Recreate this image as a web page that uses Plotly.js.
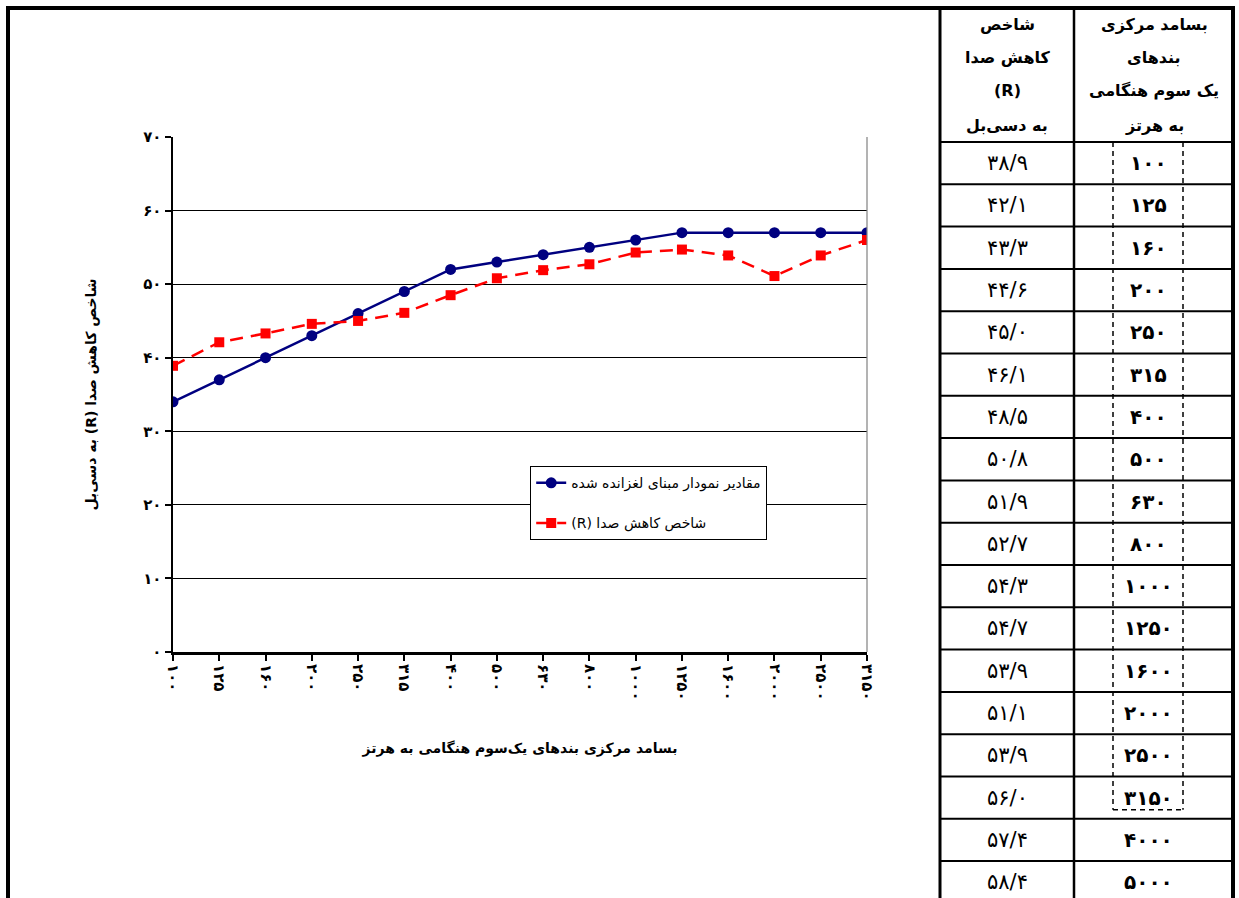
<!DOCTYPE html>
<html>
<head>
<meta charset="utf-8">
<script src="https://cdn.plot.ly/plotly-3.0.1.min.js"></script>
<style>
  html, body { margin: 0; padding: 0; background: #ffffff; }
  #chart { width: 1239px; height: 898px; }
</style>
</head>
<body>
<div id="chart"></div>
<script>
// ---- data ----
const freqLabels = ['100','125','160','200','250','315','400','500','630','800','1000','1250','1600','2000','2500','3150','4000','5000'];
const rValues = [38.9, 42.1, 43.3, 44.6, 45.0, 46.1, 48.5, 50.8, 51.9, 52.7, 54.3, 54.7, 53.9, 51.1, 53.9, 56.0, 57.4, 58.4];
const refCurve = [34, 37, 40, 43, 46, 49, 52, 53, 54, 55, 56, 57, 57, 57, 57, 57];
const yTickVals = [0, 10, 20, 30, 40, 50, 60, 70];

const seriesRefName = 'مقادیر نمودار مبنای لغزانده شده';
const seriesRName = '\u202Bشاخص کاهش صدا (R)\u202C';
const xTitle = 'بسامد مرکزی بندهای یک‌سوم هنگامی به هرتز';
const yTitle = '\u202Bشاخص کاهش صدا (R) به دسی‌بل\u202C';
const headerLeft = ['شاخص', 'کاهش صدا', '(R)', 'به دسی‌بل'];
const headerRight = ['بسامد مرکزی', 'بندهای', 'یک سوم هنگامی', 'به هرتز'];

// ---- helpers ----
const faDigits = ['۰','۱','۲','۳','۴','۵','۶','۷','۸','۹'];
function toFa(s) {
  return String(s).replace(/[0-9]/g, d => faDigits[+d]).replace('.', '/');
}
const nChart = refCurve.length;
const chartFreqs = freqLabels.slice(0, nChart);
const chartR = rValues.slice(0, nChart);

// plot area in pixels
const L = 173, R = 867, T = 137, B = 652;
function px(x) { return (x - L) / (R - L); }
function py(y) { return (B - y) / (B - T); }

const FONT = 'DejaVu Sans';

const traces = [
  {
    x: chartFreqs, y: refCurve, name: seriesRefName, type: 'scatter', mode: 'lines+markers',
    legendgroup: 'a',
    line: { color: '#000080', width: 2.5 },
    marker: { symbol: 'circle', size: 11, color: '#000080' }
  },
  {
    x: chartFreqs, y: chartR, name: seriesRName, type: 'scatter', mode: 'lines+markers',
    legendgroup: 'b',
    line: { color: '#FF0000', width: 2.5, dash: '13px,8px' },
    marker: { symbol: 'square', size: 10, color: '#FF0000' }
  }
];

// ---- table and frame shapes ----
const shapes = [];
const lineShape = (x0, y0, x1, y1, w, color, dash) => ({
  type: 'line', xref: 'paper', yref: 'paper',
  x0: px(x0), y0: py(y0), x1: px(x1), y1: py(y1),
  line: { color: color || '#000', width: w, dash: dash || 'solid' }
});
// outer frame
shapes.push(lineShape(6, 8, 1235, 8, 4));
shapes.push(lineShape(8, 6, 8, 905, 4));
// table verticals
shapes.push(lineShape(940, 8, 940, 905, 3));
shapes.push(lineShape(1074, 8, 1074, 905, 2.5));
shapes.push(lineShape(1233, 6, 1233, 905, 4));
// table rows
const headerBottom = 142, rowH = 42.3;
for (let k = 0; k < freqLabels.length; k++) {
  const y = headerBottom + rowH * k;
  shapes.push(lineShape(940, y, 1233, y, 2));
}
// dashed highlight box around chart frequencies
const boxBottom = headerBottom + rowH * (nChart - 0.5) + 12;
shapes.push(lineShape(1113, headerBottom, 1113, boxBottom, 1.5, '#000', '5px,4px'));
shapes.push(lineShape(1183, headerBottom, 1183, boxBottom, 1.5, '#000', '5px,4px'));
shapes.push(lineShape(1113, boxBottom, 1183, boxBottom, 1.5, '#000', '5px,4px'));
// plot-area right border
shapes.push({ type: 'line', xref: 'paper', yref: 'paper', x0: 1, x1: 1, y0: 0, y1: 1,
  line: { color: '#808080', width: 1.2 } });

// ---- table annotations ----
const annotations = [];
const headerYs = [25, 58, 91, 125];
headerLeft.forEach((t, i) => annotations.push({
  text: t, xref: 'paper', yref: 'paper', x: px(1007), y: py(headerYs[i]),
  xanchor: 'center', yanchor: 'middle', showarrow: false,
  font: { family: FONT, size: 16, color: '#000', weight: 'bold' }
}));
headerRight.forEach((t, i) => annotations.push({
  text: t, xref: 'paper', yref: 'paper', x: px(1154), y: py(headerYs[i]),
  xanchor: 'center', yanchor: 'middle', showarrow: false,
  font: { family: FONT, size: 16, color: '#000', weight: 'bold' }
}));
freqLabels.forEach((f, k) => {
  const yc = headerBottom + rowH * (k + 0.5);
  annotations.push({
    text: toFa(rValues[k].toFixed(1)), xref: 'paper', yref: 'paper', x: px(1007), y: py(yc),
    xanchor: 'center', yanchor: 'middle', showarrow: false,
    font: { family: FONT, size: 21, color: '#000' }
  });
  annotations.push({
    text: toFa(f), xref: 'paper', yref: 'paper', x: px(1148), y: py(yc),
    xanchor: 'center', yanchor: 'middle', showarrow: false,
    font: { family: FONT, size: 20, color: '#000', weight: 'bold' }
  });
});

const layout = {
  width: 1239, height: 898,
  margin: { l: L, r: 1239 - R, t: T, b: 898 - B, autoexpand: false },
  paper_bgcolor: '#ffffff', plot_bgcolor: '#ffffff',
  font: { family: FONT, color: '#000' },
  showlegend: true,
  legend: {
    x: px(530), y: py(466), xanchor: 'left', yanchor: 'top',
    bgcolor: '#ffffff', bordercolor: '#000', borderwidth: 1.2,
    font: { family: FONT, size: 14, color: '#000' },
    tracegroupgap: 19, traceorder: 'grouped'
  },
  xaxis: {
    type: 'category', range: [0, nChart - 1],
    tickvals: chartFreqs, ticktext: chartFreqs.map(toFa),
    tickangle: 90, ticks: 'outside', ticklen: 6, tickwidth: 2, tickcolor: '#000',
    tickfont: { family: FONT, size: 15, color: '#000', weight: 'bold' },
    showline: true, linecolor: '#000', linewidth: 3,
    showgrid: false, zeroline: false, automargin: false,
    title: { text: xTitle, standoff: 44, font: { family: FONT, size: 14, color: '#000', weight: 'bold' } }
  },
  yaxis: {
    range: [0, 70], tickvals: yTickVals, ticktext: yTickVals.map(toFa),
    ticks: 'outside', ticklen: 6, tickwidth: 2, tickcolor: '#000',
    tickfont: { family: FONT, size: 15, color: '#000', weight: 'bold' },
    showline: true, linecolor: '#000', linewidth: 2.5,
    showgrid: true, gridcolor: '#000', gridwidth: 1, zeroline: false, automargin: false,
    title: { text: yTitle, standoff: 44, font: { family: FONT, size: 14, color: '#000', weight: 'bold' } }
  },
  shapes: shapes,
  annotations: annotations
};

Plotly.newPlot('chart', traces, layout, { displayModeBar: false, staticPlot: true });
</script>
</body>
</html>
